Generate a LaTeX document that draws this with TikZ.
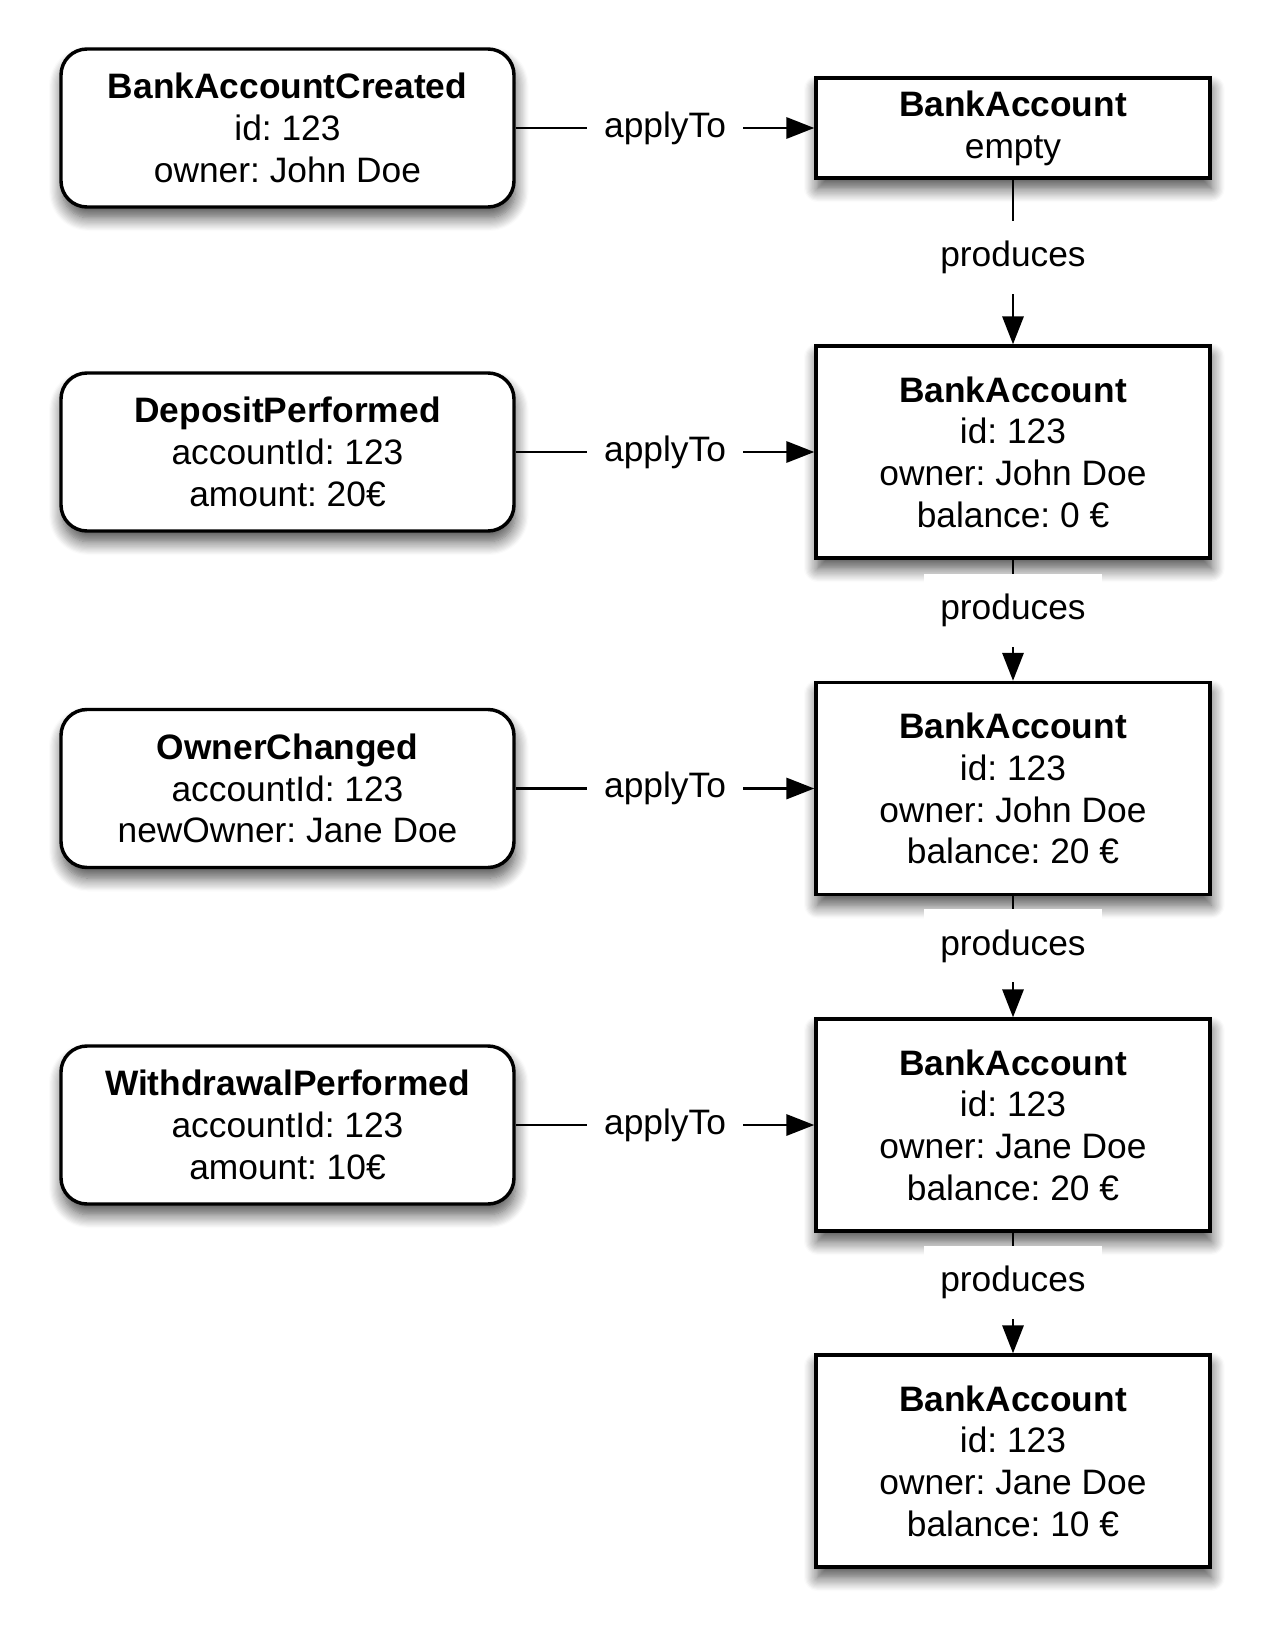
\documentclass[tikz,border=0pt]{standalone}
\usepackage{fontspec}
\setmainfont{Liberation Sans}
\frenchspacing
\usetikzlibrary{arrows.meta,shadows.blur}

\begin{document}
\begin{tikzpicture}[x=0.75pt,y=0.75pt,yscale=-1,xscale=1,
    every node/.style={font=\fontsize{26.5}{31.3}\selectfont},
    boxshadow/.style={blur shadow={shadow xshift=1pt,shadow yshift=-8pt,shadow blur radius=10pt,shadow blur steps=12,shadow opacity=70}},
    event/.style={draw=black,line width=2.6pt,fill=white,rounded corners=19.5pt,minimum width=339.75pt,minimum height=118.5pt,align=center,boxshadow},
    account/.style={draw=black,line width=2.6pt,fill=white,minimum width=295.5pt,minimum height=159pt,align=center,boxshadow},
    link/.style={line width=1.7pt,-{Triangle[length=21pt,width=16pt]}},
    linklabel/.style={fill=white,inner xsep=12.5pt,inner ysep=15pt}
]
    \useasboundingbox (0,0) rectangle (1275,1641);

    %Shape: Rounded Rect
    \node [event] (created) at (287.5,128) {\textbf{BankAccountCreated}\\id: 123\\owner: John Doe};
    \node [event] (deposit) at (287.5,452) {\textbf{DepositPerformed}\\accountId: 123\\amount: 20€};
    \node [event] (ownerchg) at (287.5,788.5) {\textbf{OwnerChanged}\\accountId: 123\\newOwner: Jane Doe};
    \node [event] (withdraw) at (287.5,1125) {\textbf{WithdrawalPerformed}\\accountId: 123\\amount: 10€};

    %Shape: Rectangle
    \node [account,minimum height=75pt] (acc0) at (1013,128) {\textbf{BankAccount}\\empty};
    \node [account] (acc1) at (1013,452) {\textbf{BankAccount}\\id: 123\\owner: John Doe\\balance: 0 €};
    \node [account] (acc2) at (1013,788.5) {\textbf{BankAccount}\\id: 123\\owner: John Doe\\balance: 20 €};
    \node [account] (acc3) at (1013,1125) {\textbf{BankAccount}\\id: 123\\owner: Jane Doe\\balance: 20 €};
    \node [account] (acc4) at (1013,1461) {\textbf{BankAccount}\\id: 123\\owner: Jane Doe\\balance: 10 €};

    %Straight Lines
    \draw [link] (created) -- node [linklabel] {applyTo} (acc0);
    \draw [link] (deposit) -- node [linklabel] {applyTo} (acc1);
    \draw [link] (ownerchg) -- node [linklabel] {applyTo} (acc2);
    \draw [link] (withdraw) -- node [linklabel] {applyTo} (acc3);

    \draw [link] (acc0) -- node [linklabel,pos=0.47] {produces} (acc1);
    \draw [link] (acc1) -- node [linklabel,pos=0.42] {produces} (acc2);
    \draw [link] (acc2) -- node [linklabel,pos=0.41] {produces} (acc3);
    \draw [link] (acc3) -- node [linklabel,pos=0.41] {produces} (acc4);

\end{tikzpicture}
\end{document}
